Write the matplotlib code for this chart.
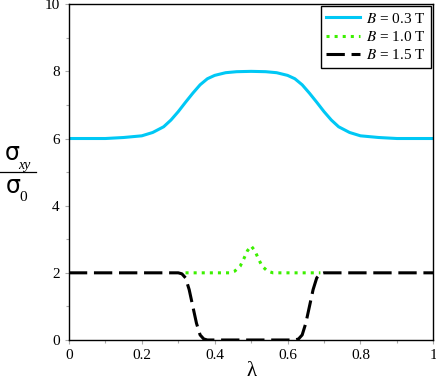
import matplotlib
matplotlib.use("Agg")
import matplotlib.pyplot as plt
from matplotlib.lines import Line2D
from matplotlib.ticker import MultipleLocator

matplotlib.rcParams.update({
    "font.family": "serif",
    "font.serif": ["Liberation Serif", "DejaVu Serif"],
    "mathtext.fontset": "stix",
    "font.size": 11,
})

# values
lam_03 = [0.0, 0.10, 0.15, 0.20, 0.23, 0.26, 0.28, 0.30, 0.32, 0.34, 0.36, 0.38,
          0.40, 0.43, 0.46, 0.50, 0.54, 0.57, 0.60, 0.62, 0.64, 0.66, 0.68, 0.70,
          0.72, 0.74, 0.77, 0.80, 0.85, 0.90, 1.0]
sig_03 = [6.0, 6.0, 6.03, 6.08, 6.18, 6.35, 6.55, 6.8, 7.08, 7.35, 7.6, 7.78,
          7.88, 7.96, 7.99, 8.0, 7.99, 7.96, 7.88, 7.78, 7.6, 7.35, 7.08, 6.8,
          6.55, 6.35, 6.18, 6.08, 6.03, 6.0, 6.0]

lam_10 = [0.32, 0.44, 0.455, 0.47, 0.48, 0.49, 0.50, 0.51, 0.52, 0.53, 0.545, 0.56, 0.69]
sig_10 = [2.0, 2.0, 2.05, 2.2, 2.42, 2.66, 2.8, 2.66, 2.42, 2.2, 2.05, 2.0, 2.0]

lam_15 = [0.0, 0.30, 0.31, 0.32, 0.33, 0.34, 0.35, 0.36, 0.37, 0.38, 0.40, 0.60,
          0.62, 0.63, 0.64, 0.65, 0.66, 0.67, 0.68, 0.69, 0.70, 1.0]
sig_15 = [2.0, 2.0, 1.97, 1.85, 1.5, 1.0, 0.5, 0.15, 0.03, 0.0, 0.0, 0.0,
          0.0, 0.03, 0.15, 0.5, 1.0, 1.5, 1.85, 1.97, 2.0, 2.0]

labels = [r"$B$ = 0.3 T", r"$B$ = 1.0 T", r"$B$ = 1.5 T"]
xtick_labels = ["0", "0.2", "0.4", "0.6", "0.8", "1"]

fig = plt.figure(figsize=(4.36, 3.82), dpi=100)
ax = fig.add_axes([0.158, 0.110, 0.836, 0.879])

ax.plot(lam_03, sig_03, color="#00c8f5", lw=2.2, label=labels[0])
ax.plot(lam_10, sig_10, color="#3cf000", lw=2.2, linestyle=":", label=labels[1])
ax.plot(lam_15, sig_15, color="black", lw=2.2, dashes=(6, 2.2), label=labels[2])

ax.set_xlim(0, 1)
ax.set_ylim(0, 10)
ax.set_xticks([0, 0.2, 0.4, 0.6, 0.8, 1.0])
ax.set_xticklabels(xtick_labels)
ax.xaxis.set_minor_locator(MultipleLocator(0.1))
ax.yaxis.set_major_locator(MultipleLocator(2))
ax.yaxis.set_minor_locator(MultipleLocator(1))
ax.tick_params(which="both", direction="out", color="#aaaaaa", length=3, width=0.8)
ax.tick_params(which="minor", length=2)
for s in ax.spines.values():
    s.set_linewidth(1.0)

ax.set_xlabel("λ", fontsize=15, labelpad=0)

# y label drawn as a stacked fraction, like the original
fig.text(0.028, 0.600, "σ", fontsize=17, family="DejaVu Sans",
         ha="center", va="center")
fig.text(0.056, 0.566, "xy", fontsize=10, style="italic", ha="center", va="center")
fig.add_artist(Line2D([0.0, 0.082], [0.550, 0.550], color="black", lw=0.9))
fig.text(0.031, 0.514, "σ", fontsize=17, family="DejaVu Sans",
         ha="center", va="center")
fig.text(0.054, 0.483, "0", fontsize=11, ha="center", va="center")

leg = ax.legend(loc="upper right", fontsize=11, frameon=True, fancybox=False,
                framealpha=1, edgecolor="black", handlelength=2.2,
                borderpad=0.35, labelspacing=0.28, handletextpad=0.4,
                borderaxespad=0.15)
leg.get_frame().set_linewidth(1.0)

fig.savefig("out.png", dpi=100)
